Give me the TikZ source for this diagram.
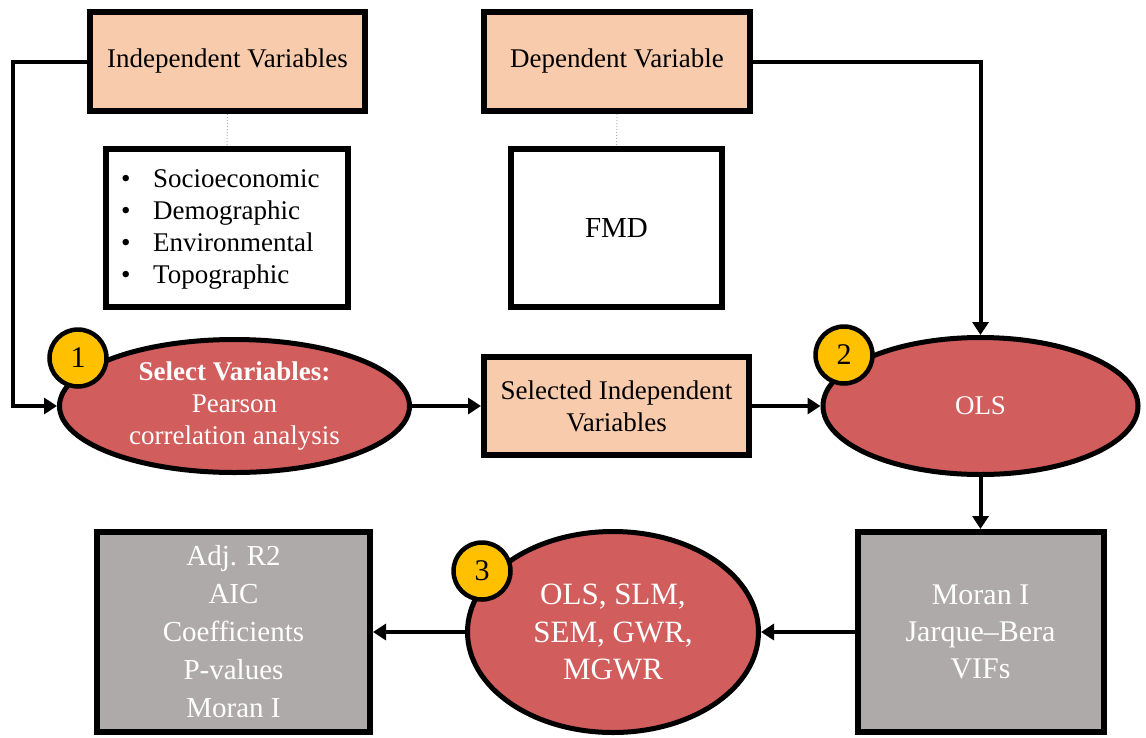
\documentclass[tikz,border=0pt]{standalone}
\usepackage{fontspec}
\setmainfont{Liberation Serif}
\usetikzlibrary{shapes.geometric,arrows.meta}
\definecolor{peach}{HTML}{F8CBAD}
\definecolor{redell}{HTML}{D15D5D}
\definecolor{grayb}{HTML}{AEAAAA}
\definecolor{badgey}{HTML}{FFC000}
\begin{document}
\begin{tikzpicture}[x=1pt,y=-1pt,
 box/.style={draw=black, line width=6pt, rectangle, inner sep=0pt, align=center},
 peachbox/.style={box, fill=peach},
 whitebox/.style={box, fill=white},
 graybox/.style={box, fill=grayb, text=white},
 ell/.style={ellipse, draw=black, line width=5pt, fill=redell, text=white, align=center, inner sep=0pt},
 badge/.style={circle, draw=black, line width=4.5pt, fill=badgey, minimum size=57pt, inner sep=0pt, font=\fontsize{30}{30}\selectfont},
 conn/.style={line width=4pt, -{Triangle[length=13pt,width=16pt]}},
 dotline/.style={draw=gray!60, line width=1pt, dotted},
 ftext/.style={font=\fontsize{27}{32}\selectfont},
]
\useasboundingbox (0,0) rectangle (1146,737);
\fill[white] (0,0) rectangle (1146,737);

\node[peachbox, ftext, minimum width=275pt, minimum height=99pt] (indep) at (227.5,61.5) {Independent Variables};
\node[peachbox, ftext, minimum width=266pt, minimum height=99pt] (dep) at (617,61.5) {Dependent Variable};
\node[whitebox, minimum width=242pt, minimum height=158pt] (bul) at (227,228) {};
\node[ftext, anchor=west, align=left, inner sep=0pt] (bultext) at (121,229)
 {\makebox[32pt][l]{\textbullet}Socioeconomic\\\makebox[32pt][l]{\textbullet}Demographic\\\makebox[32pt][l]{\textbullet}Environmental\\\makebox[32pt][l]{\textbullet}Topographic};
\node[whitebox, font=\fontsize{29}{32}\selectfont, minimum width=211pt, minimum height=158pt] (fmd) at (616.5,228) {FMD};

\node[ell, ftext, minimum width=350pt, minimum height=133pt] (e1) at (234.5,406) {\textbf{Select Variables:}\\Pearson\\correlation analysis};
\node[peachbox, ftext, minimum width=265pt, minimum height=98pt] (sel) at (616.5,406) {Selected Independent\\Variables};
\node[ell, ftext, minimum width=315pt, minimum height=137pt] (e2) at (980.5,406) {OLS};
\node[graybox, font=\fontsize{30}{37}\selectfont, minimum width=246pt, minimum height=200pt] (gR) at (980.5,632) {Moran I\\Jarque--Bera\\VIFs};
\node[ell, font=\fontsize{31}{37.5}\selectfont, minimum width=291pt, minimum height=201pt] (e3) at (613,632) {OLS, SLM,\\SEM, GWR,\\MGWR};
\node[graybox, font=\fontsize{29}{38}\selectfont, minimum width=273pt, minimum height=200pt] (gL) at (233.5,632) {Adj. R2\\AIC\\Coefficients\\P-values\\Moran I};

\draw[dotline] (indep.south) -- (bul.north);
\draw[dotline] (dep.south) -- (fmd.north);

\draw[conn] (indep.west) -- ++(-74,0) |- (e1.west);
\draw[conn] (dep.east) -| (e2.north);
\draw[conn] (e1.east) -- (sel.west);
\draw[conn] (sel.east) -- (e2.west);
\draw[conn] (e2.south) -- (gR.north);
\draw[conn] (gR.west) -- (e3.east);
\draw[conn] (e3.west) -- (gL.east);

\node[badge] (b1) at (78,358) {1};
\node[badge] (b2) at (844,355) {2};
\node[badge] (b3) at (482,571) {3};
\end{tikzpicture}
\end{document}
